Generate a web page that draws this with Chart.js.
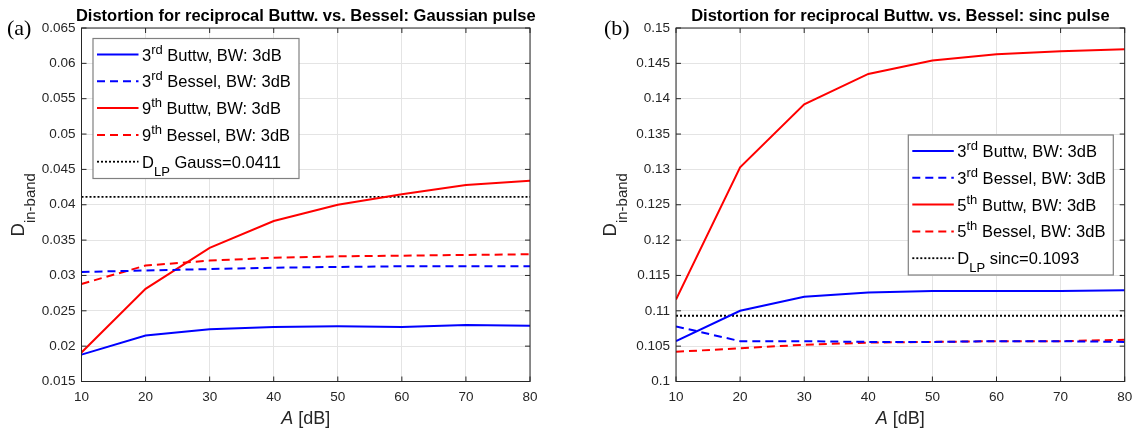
<!DOCTYPE html>
<html>
<head>
<meta charset="utf-8">
<script src="https://cdn.jsdelivr.net/npm/chart.js@4.4.1/dist/chart.umd.min.js"></script>
<style>
  html, body { margin: 0; padding: 0; background: #fff; }
  #wrap { position: relative; width: 1134px; height: 433px; overflow: hidden; }
  canvas { position: absolute; top: 0; }
</style>
</head>
<body>
<div id="wrap">
  <canvas id="chartA" width="567" height="433" style="left:0px"></canvas>
  <canvas id="chartB" width="567" height="433" style="left:567px"></canvas>
</div>
<script>
// attenuation A [dB] (x axis, both panels)
const aDb = [10, 20, 30, 40, 50, 60, 70, 80];

// (a) Gaussian pulse
const gaussButt3 = [0.0188, 0.0215, 0.0224, 0.0227, 0.0228, 0.0227, 0.0230, 0.0229];
const gaussBess3 = [0.0305, 0.0307, 0.0309, 0.0311, 0.0312, 0.0313, 0.0313, 0.0313];
const gaussButt9 = [0.0191, 0.0281, 0.0339, 0.0377, 0.0400, 0.0415, 0.0428, 0.0434];
const gaussBess9 = [0.0288, 0.0314, 0.0321, 0.0325, 0.0327, 0.0328, 0.0329, 0.0330];
const dlpGauss = 0.0411;

// (b) sinc pulse
const sincButt3 = [0.1057, 0.1100, 0.1120, 0.1126, 0.1128, 0.1128, 0.1128, 0.1129];
const sincBess3 = [0.1078, 0.1057, 0.1057, 0.1056, 0.1056, 0.1057, 0.1057, 0.1056];
const sincButt5 = [0.1116, 0.1303, 0.1392, 0.1435, 0.1454, 0.1463, 0.1467, 0.1470];
const sincBess5 = [0.1042, 0.1047, 0.1052, 0.1055, 0.1056, 0.1057, 0.1057, 0.1059];
const dlpSinc = 0.1093;

const FONT = '"Liberation Sans", Arial, Helvetica, sans-serif';
const AXCOL = '#262626';

function pts(ys) {
    return aDb.map((x, i) => ({ x: x, y: ys[i] }));
}

// draws a row of text pieces (for sub/superscripts)
function drawParts(ctx, x, y, parts) {
    for (const p of parts) {
        ctx.font = (p.italic ? 'italic ' : '') + (p.bold ? 'bold ' : '') + p.size + 'px ' + FONT;
        ctx.fillText(p.t, x, y + (p.shift || 0));
        x += ctx.measureText(p.t).width;
    }
    return x;
}
function partsWidth(ctx, parts) {
    let w = 0;
    for (const p of parts) {
        ctx.font = (p.italic ? 'italic ' : '') + (p.bold ? 'bold ' : '') + p.size + 'px ' + FONT;
        w += ctx.measureText(p.t).width;
    }
    return w;
}

function legendLabel(order, suffix, text) {
    return [{ t: order, size: 16.5 }, { t: suffix, size: 13, shift: -7 }, { t: ' ' + text, size: 16.5 }];
}
function dlpLabel(text) {
    return [{ t: 'D', size: 16.5 }, { t: 'LP', size: 13, shift: 8 }, { t: ' ' + text, size: 16.5 }];
}

// MATLAB like frame, ticks, title, labels and legend
const matlabFrame = {
    id: 'matlabFrame',
    afterDraw(chart, args, opts) {
        const ctx = chart.ctx;
        const a = chart.chartArea;
        const xs = chart.scales.x, ys = chart.scales.y;
        ctx.save();

        // box + inward ticks
        ctx.strokeStyle = AXCOL;
        ctx.lineWidth = 1;
        ctx.setLineDash([]);
        ctx.strokeRect(a.left, a.top, a.right - a.left, a.bottom - a.top);
        ctx.beginPath();
        xs.ticks.forEach(t => {
            const px = xs.getPixelForValue(t.value);
            ctx.moveTo(px, a.bottom); ctx.lineTo(px, a.bottom - 5);
            ctx.moveTo(px, a.top); ctx.lineTo(px, a.top + 5);
        });
        ys.ticks.forEach(t => {
            const py = ys.getPixelForValue(t.value);
            ctx.moveTo(a.left, py); ctx.lineTo(a.left + 5, py);
            ctx.moveTo(a.right, py); ctx.lineTo(a.right - 5, py);
        });
        ctx.stroke();

        // title
        ctx.fillStyle = '#000';
        ctx.textAlign = 'center';
        ctx.textBaseline = 'alphabetic';
        ctx.font = 'bold 16.5px ' + FONT;
        ctx.fillText(opts.title, (a.left + a.right) / 2, 21);

        // panel label (a)/(b)
        ctx.textAlign = 'left';
        ctx.font = '22px "Liberation Serif", "Times New Roman", serif';
        ctx.fillText(opts.panel, opts.panelX, 35);

        // x label
        ctx.fillStyle = AXCOL;
        const xl = [{ t: 'A', size: 18, italic: true }, { t: ' [dB]', size: 18 }];
        const xw = partsWidth(ctx, xl);
        drawParts(ctx, (a.left + a.right) / 2 - xw / 2, 424, xl);

        // y label, rotated
        const yl = [{ t: 'D', size: 18.5 }, { t: 'in-band', size: 15, shift: 11 }];
        const yw = partsWidth(ctx, yl);
        ctx.save();
        ctx.translate(opts.ylabelX, (a.top + a.bottom) / 2);
        ctx.rotate(-Math.PI / 2);
        drawParts(ctx, -yw / 2, 0, yl);
        ctx.restore();

        // legend
        const lg = opts.legend;
        ctx.fillStyle = '#fff';
        ctx.fillRect(lg.x, lg.y, lg.w, lg.h);
        ctx.strokeStyle = '#808080';
        ctx.lineWidth = 1.2;
        ctx.strokeRect(lg.x, lg.y, lg.w, lg.h);
        chart.data.datasets.forEach((ds, i) => {
            const ry = lg.y + 16 + i * 26.8;
            ctx.strokeStyle = ds.borderColor;
            ctx.lineWidth = ds.borderWidth;
            ctx.setLineDash(ds.borderDash || []);
            ctx.beginPath();
            ctx.moveTo(lg.x + 4, ry);
            ctx.lineTo(lg.x + 45.5, ry);
            ctx.stroke();
            ctx.setLineDash([]);
            ctx.fillStyle = '#000';
            drawParts(ctx, lg.x + 49, ry + 6, ds.legendParts);
        });
        ctx.restore();
    }
};

function makeDatasets(s1, s2, s3, s4, dlp, ord2, sfx2, dlpText) {
    return [
        { data: pts(s1), borderColor: '#0000ff', borderWidth: 2, legendParts: legendLabel('3', 'rd', 'Buttw, BW: 3dB') },
        { data: pts(s2), borderColor: '#0000ff', borderWidth: 2, borderDash: [8, 5], legendParts: legendLabel('3', 'rd', 'Bessel, BW: 3dB') },
        { data: pts(s3), borderColor: '#ff0000', borderWidth: 2, legendParts: legendLabel(ord2, sfx2, 'Buttw, BW: 3dB') },
        { data: pts(s4), borderColor: '#ff0000', borderWidth: 2, borderDash: [8, 5], legendParts: legendLabel(ord2, sfx2, 'Bessel, BW: 3dB') },
        { data: pts(aDb.map(() => dlp)), borderColor: '#000000', borderWidth: 1.8, borderDash: [2, 2], legendParts: dlpLabel(dlpText) }
    ];
}

function makePanel(id, datasets, yMin, yMax, plotLeft, plotRight, frame) {
    new Chart(id, {
        type: 'line',
        data: { datasets: datasets },
        options: {
            responsive: false,
            animation: false,
            devicePixelRatio: 1,
            layout: { padding: { left: 0, top: 28, right: 567 - plotRight, bottom: 0 } },
            elements: { point: { radius: 0 }, line: { tension: 0 } },
            plugins: { legend: { display: false }, tooltip: { enabled: false }, matlabFrame: frame },
            scales: {
                x: {
                    type: 'linear', min: 10, max: 80,
                    ticks: { stepSize: 10, color: AXCOL, font: { family: FONT, size: 13.5 }, padding: 8, maxRotation: 0 },
                    grid: { color: '#e4e4e4', drawTicks: false },
                    border: { display: false },
                    afterFit: s => { s.height = 51.5; s.paddingLeft = 0; s.paddingRight = 0; }
                },
                y: {
                    min: yMin, max: yMax,
                    ticks: {
                        stepSize: 0.005, color: AXCOL, font: { family: FONT, size: 13.5 }, padding: 6,
                        callback: v => String(parseFloat(v.toFixed(4)))
                    },
                    grid: { color: '#e4e4e4', drawTicks: false },
                    border: { display: false },
                    afterFit: s => { s.width = plotLeft; s.paddingTop = 0; s.paddingBottom = 0; }
                }
            }
        },
        plugins: [matlabFrame]
    });
}

makePanel('chartA',
    makeDatasets(gaussButt3, gaussBess3, gaussButt9, gaussBess9, dlpGauss, '9', 'th', 'Gauss=0.0411'),
    0.015, 0.065, 81.5, 530,
    {
        title: 'Distortion for reciprocal Buttw. vs. Bessel: Gaussian pulse',
        panel: '(a)', panelX: 7, ylabelX: 23.5,
        legend: { x: 93, y: 38.5, w: 206, h: 140 }
    });

makePanel('chartB',
    makeDatasets(sincButt3, sincBess3, sincButt5, sincBess5, dlpSinc, '5', 'th', 'sinc=0.1093'),
    0.1, 0.15, 109, 557.7,
    {
        title: 'Distortion for reciprocal Buttw. vs. Bessel: sinc pulse',
        panel: '(b)', panelX: 37, ylabelX: 48.5,
        legend: { x: 341.3, y: 135, w: 205, h: 140 }
    });
</script>
</body>
</html>
